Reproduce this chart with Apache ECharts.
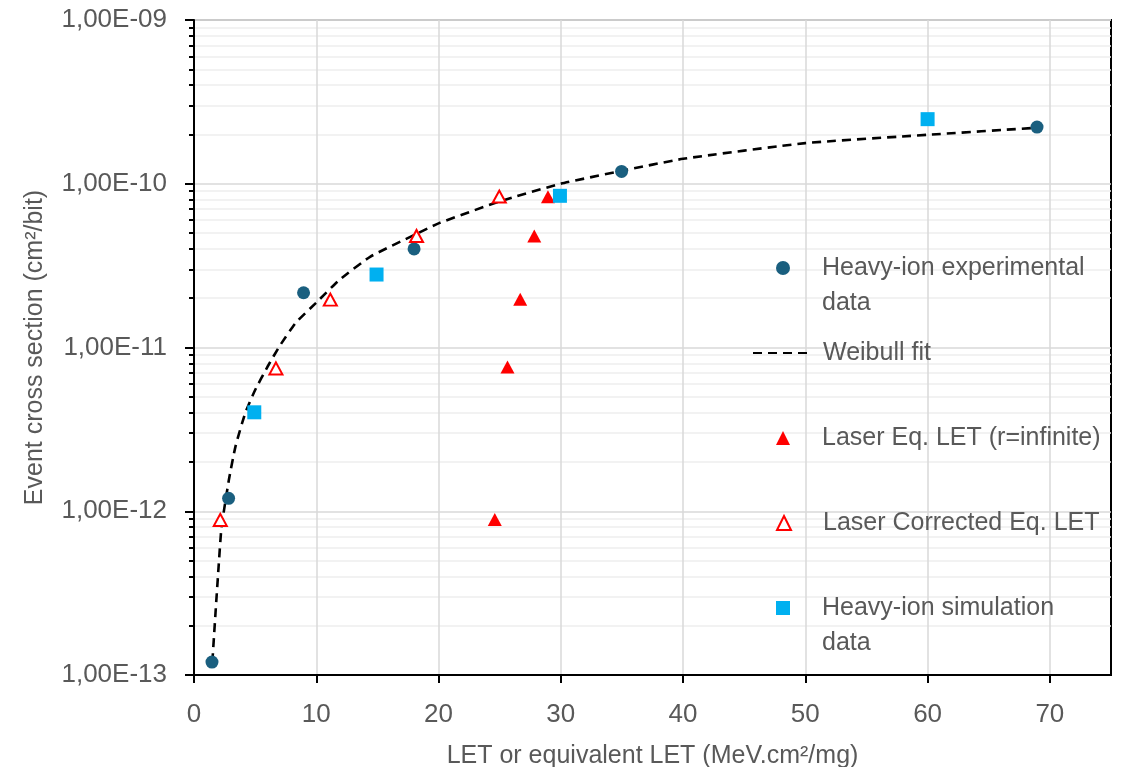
<!DOCTYPE html>
<html>
<head>
<meta charset="utf-8">
<script src="https://cdn.jsdelivr.net/npm/echarts@6/dist/echarts.min.js"></script>
<style>
  html, body { margin: 0; padding: 0; background: #fff; }
  #main { width: 1122px; height: 767px; }
</style>
</head>
<body>
<div id="main"></div>
<script>
// data (LET in MeV.cm2/mg, cross section in cm2/bit)
var expLET = [1.47, 2.83, 8.96, 18.0, 34.97, 68.95];
var expSigma = [1.2e-13, 1.2e-12, 2.16e-11, 4.0e-11, 1.19e-10, 2.22e-10];

var simLET = [4.93, 14.93, 29.93, 60.0];
var simSigma = [4.02e-12, 2.79e-11, 8.44e-11, 2.48e-10];

var laserLET = [24.6, 25.64, 26.68, 27.83, 28.95];
var laserSigma = [8.9e-13, 7.6e-12, 1.97e-11, 4.8e-11, 8.34e-11];

var corrLET = [2.15, 6.7, 11.15, 18.2, 24.97];
var corrSigma = [8.85e-13, 7.45e-12, 1.96e-11, 4.8e-11, 8.35e-11];

var fitLET = [1.5, 1.76, 2.03, 2.25, 2.85, 3.4, 4.2, 5.0, 6.0, 7.0, 8.3, 10.0, 11.8, 14.4, 18.0, 20.0, 25.0, 30.0, 35.0, 40.0, 50.0, 60.0, 69.0];
var fitSigma = [1.2e-13, 2.4e-13, 4.8e-13, 8.0e-13, 1.55e-12, 2.5e-12, 4.0e-12, 5.5e-12, 7.6e-12, 1.02e-11, 1.41e-11, 1.88e-11, 2.55e-11, 3.58e-11, 4.86e-11, 5.73e-11, 7.8e-11, 1.0e-10, 1.2e-10, 1.42e-10, 1.77e-10, 1.99e-10, 2.2e-10];

var xTicks = [0, 10, 20, 30, 40, 50, 60, 70];
var yMinorTicks = [];
for (var d = -13; d < -9; d++) {
  for (var k = 2; k <= 9; k++) yMinorTicks.push(k * Math.pow(10, d));
}

function pairs(xs, ys) {
  return xs.map(function (x, i) { return [x, ys[i]]; });
}

var grey = '#595959';
var font = 'Liberation Sans';

var names = ['Heavy-ion experimental data', 'Weibull fit', 'Laser Eq. LET (r=infinite)', 'Laser Corrected Eq. LET', 'Heavy-ion simulation data'];
var legendText = {
  'Heavy-ion experimental data': '\nHeavy-ion experimental\ndata',
  'Heavy-ion simulation data': '\nHeavy-ion simulation\ndata'
};
var legendY = [268, 353, 438, 523, 608];

// every legend entry sits on its own, icons centred on x=783, text from x=822
var legends = names.map(function (n, i) {
  var lines = legendText[n] ? 3 : 1;
  var isLine = n === 'Weibull fit';
  var lg = {
    data: [n],
    left: isLine ? 752 : 776,
    top: legendY[i] - lines * 35 / 2,
    padding: 0,
    itemWidth: isLine ? 58 : 14,
    itemHeight: 14,
    selectedMode: false,
    formatter: function (name) { return legendText[name] || name; },
    textStyle: {
      fontFamily: font, fontSize: 25, color: grey, lineHeight: 35,
      padding: [0, 0, 0, isLine ? 7 : 27]
    }
  };
  if (isLine) lg.itemStyle = { opacity: 0 };
  return lg;
});

var chart = echarts.init(document.getElementById('main'));
chart.setOption({
  animation: false,
  backgroundColor: '#fff',
  legend: legends,
  grid: {
    left: 194, right: 11, top: 20, bottom: 92,
    outerBoundsMode: 'none', containLabel: false,
    show: true, borderColor: '#000', borderWidth: 2
  },
  xAxis: {
    type: 'value', min: 0, max: 75,
    name: 'LET or equivalent LET (MeV.cm²/mg)',
    nameLocation: 'middle', nameGap: 69,
    nameTextStyle: { fontFamily: font, fontSize: 25, color: grey },
    axisLine: { lineStyle: { color: '#000', width: 2 } },
    axisTick: { length: 8, lineStyle: { color: '#000', width: 2 }, customValues: xTicks },
    axisLabel: { fontFamily: font, fontSize: 26, color: grey, margin: 27, customValues: xTicks },
    splitLine: { lineStyle: { color: '#d9d9d9', width: 1.5 } }
  },
  yAxis: [{
    type: 'log', min: 1e-13, max: 1e-9, logBase: 10, position: 'left',
    name: 'Event cross section (cm²/bit)',
    nameLocation: 'middle', nameGap: 146,
    nameTextStyle: { fontFamily: font, fontSize: 25, color: grey },
    axisLine: { show: true, lineStyle: { color: '#000', width: 2 } },
    axisTick: { show: true, length: 9, lineStyle: { color: '#000', width: 2 } },
    axisLabel: {
      fontFamily: font, fontSize: 26, color: grey, margin: 27,
      formatter: function (v) {
        var e = Math.round(Math.log10(v));
        var a = Math.abs(e);
        return '1,00E' + (e < 0 ? '-' : '+') + (a < 10 ? '0' + a : a);
      }
    },
    splitLine: { lineStyle: { color: '#d9d9d9', width: 1.5 } }
  }, {
    type: 'log', min: 1e-13, max: 1e-9, logBase: 10, position: 'left',
    axisLine: { show: false },
    axisTick: { show: true, length: 5, lineStyle: { color: '#000', width: 2 }, customValues: yMinorTicks },
    axisLabel: { show: false },
    splitLine: { show: true, lineStyle: { color: '#eeeeee', width: 1.5 } }
  }],
  series: [{
    name: names[0], type: 'scatter', data: pairs(expLET, expSigma),
    symbol: 'circle', symbolSize: 13, z: 4,
    itemStyle: { color: '#1A5F7F', opacity: 1 }
  }, {
    name: names[1], type: 'line', data: pairs(fitLET, fitSigma),
    symbol: 'none', showSymbol: false, smooth: 0.15, z: 3,
    lineStyle: { color: '#000', width: 2.6, type: [9, 6] },
    itemStyle: { color: '#000' }
  }, {
    name: names[2], type: 'scatter', data: pairs(laserLET, laserSigma),
    symbol: 'triangle', symbolSize: [14, 13], z: 4,
    itemStyle: { color: '#FF0000', opacity: 1 }
  }, {
    name: names[3], type: 'scatter', data: pairs(corrLET, corrSigma),
    symbol: 'triangle', symbolSize: [13, 12], z: 4,
    itemStyle: { color: '#fff', borderColor: '#FF0000', borderWidth: 2, opacity: 1 }
  }, {
    name: names[4], type: 'scatter', data: pairs(simLET, simSigma),
    symbol: 'rect', symbolSize: 14, z: 4,
    itemStyle: { color: '#00B0F0', opacity: 1 }
  }]
});
</script>
</body>
</html>
